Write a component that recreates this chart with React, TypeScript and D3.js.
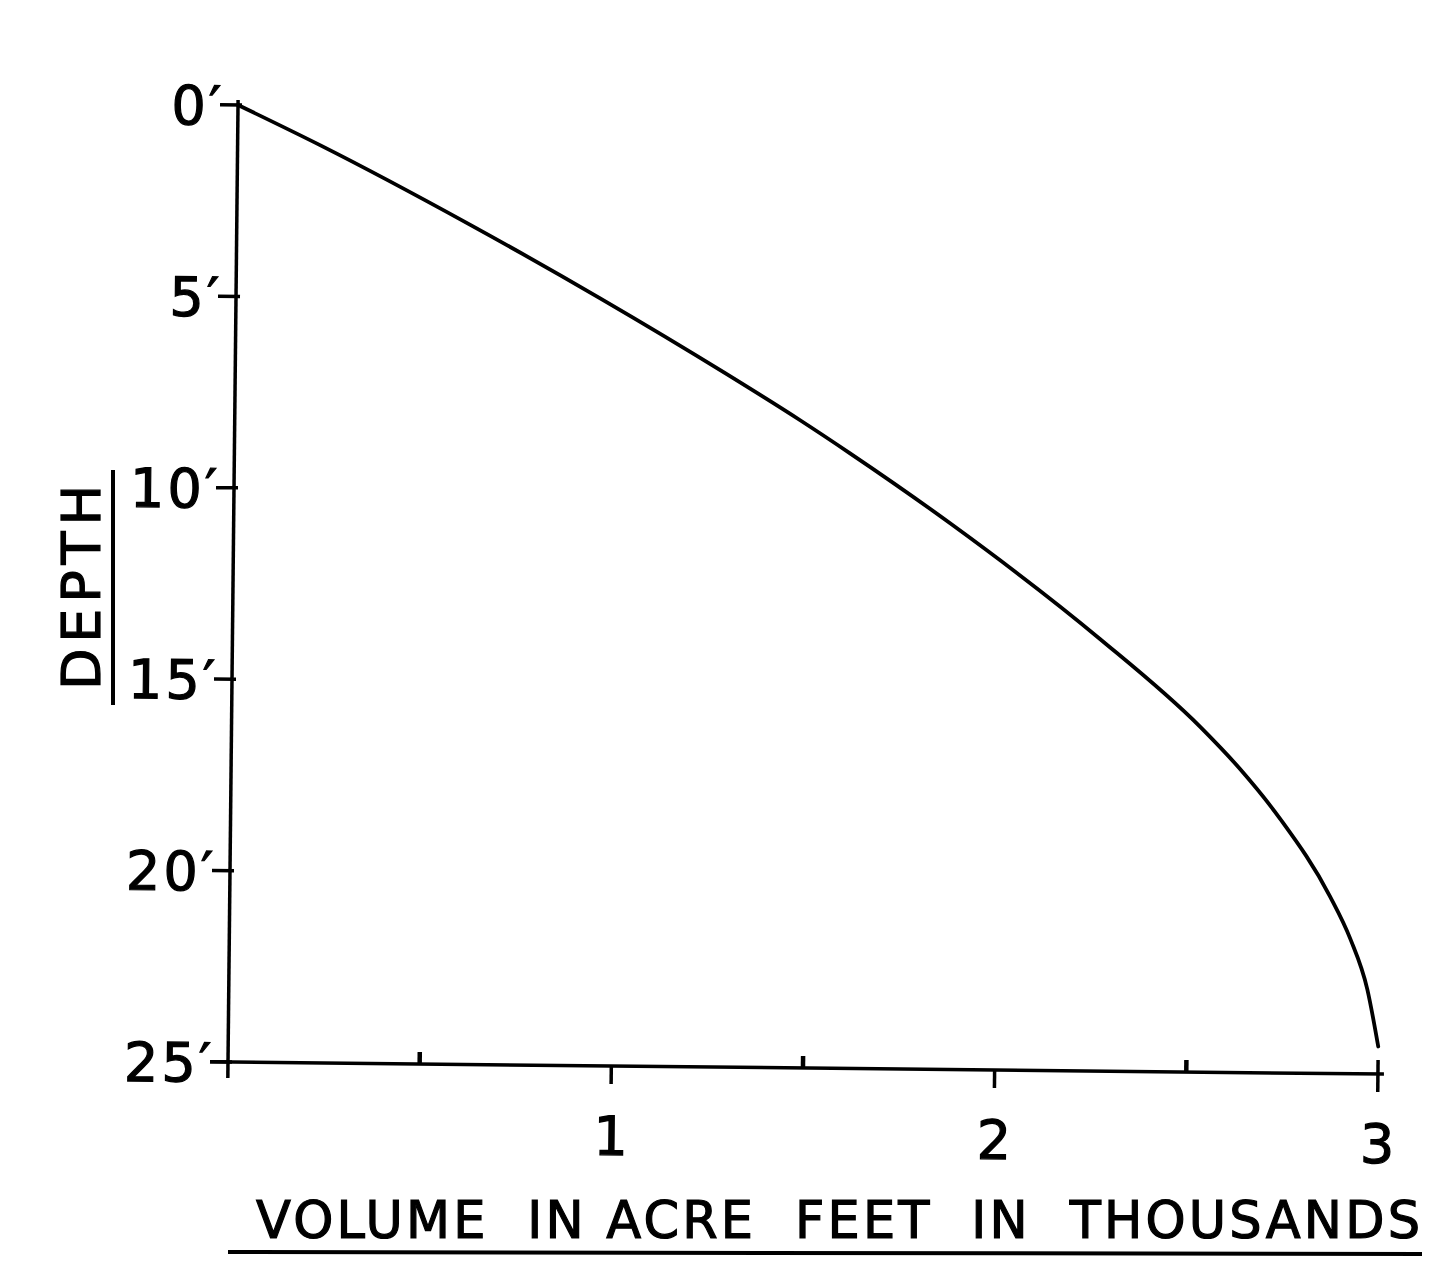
import React from "react";
import * as d3 from "d3";

// Reservoir capacity curve: volume (thousands of acre-feet) vs depth (feet)
const volumes = [0, 0.215, 0.608, 0.95, 1.278, 1.475, 1.606, 1.869, 2.263, 2.527, 2.632, 2.738, 2.87, 2.924, 2.97, 3.0];
const depths = [0, 1.025, 3.06, 4.95, 6.87, 8.08, 8.93, 10.73, 13.71, 15.98, 17.07, 18.36, 20.37, 21.47, 22.79, 24.28];

const depthTicks = [0, 5, 10, 15, 20, 25];
const depthTickLabels = ["0′", "5′", "10′", "15′", "20′", "25′"];
const volumeMajorTicks = [1, 2, 3];
const volumeMajorLabels = ["1", "2", "3"];
const volumeMinorTicks = [0.5, 1.5, 2.5];

const xTitle = "VOLUME  IN ACRE  FEET  IN  THOUSANDS";
const yTitle = "DEPTH";

const W = 1450;
const H = 1267;
const FONT = "'DejaVu Sans', 'Liberation Sans', sans-serif";

export default function App() {
  const x = d3.scaleLinear().domain([0, 3]).range([228, 1378]);
  const y = d3.scaleLinear().domain([0, 25]).range([105, 1062]);
  const x0 = x(0);
  const yBase = y(25);

  const pts = volumes.map((v, i) => [v, depths[i]] as [number, number]);
  const line = d3
    .line<[number, number]>()
    .x((d) => x(d[0]))
    .y((d) => y(d[1]))
    .curve(d3.curveMonotoneX);

  const textProps = {
    fontFamily: FONT,
    fill: "#000",
    stroke: "#000",
    strokeWidth: 1.2,
  };

  return (
    <svg
      width={W}
      height={H}
      viewBox={`0 0 ${W} ${H}`}
      style={{ position: "absolute", left: 0, top: 0, background: "#fff" }}
    >
      <rect x={0} y={0} width={W} height={H} fill="#fff" />
      <g transform={`rotate(0.6 ${x0} ${yBase})`}>
        {/* y axis */}
        <line x1={x0} y1={y(0) - 5} x2={x0} y2={yBase + 16} stroke="#000" strokeWidth={3.5} />
        {/* x axis */}
        <line x1={x0 - 18} y1={yBase} x2={x(3) + 6} y2={yBase} stroke="#000" strokeWidth={3.5} />

        {depthTicks.map((d, i) => (
          <g key={"yt" + d}>
            <line x1={x0 - 18} x2={x0 + 4} y1={y(d)} y2={y(d)} stroke="#000" strokeWidth={3.5} />
            <text
              x={x0 - 14}
              y={y(d) + 20}
              textAnchor="end"
              fontSize={54}
              letterSpacing={3}
              {...textProps}
            >
              {depthTickLabels[i]}
            </text>
          </g>
        ))}

        {volumeMajorTicks.map((v, i) => (
          <g key={"xt" + v}>
            <line
              x1={x(v)}
              x2={x(v)}
              y1={v === 3 ? yBase - 14 : yBase}
              y2={yBase + 18}
              stroke="#000"
              strokeWidth={3.5}
            />
            <text x={x(v)} y={yBase + 89} textAnchor="middle" fontSize={54} {...textProps}>
              {volumeMajorLabels[i]}
            </text>
          </g>
        ))}
        {volumeMinorTicks.map((v) => (
          <line key={"xm" + v} x1={x(v)} x2={x(v)} y1={yBase - 12} y2={yBase} stroke="#000" strokeWidth={4.5} />
        ))}

        {/* capacity curve */}
        <path d={line(pts) || ""} fill="none" stroke="#000" strokeWidth={3.8} strokeLinejoin="round" strokeLinecap="round" />
      </g>

      {/* x axis title with underline */}
      <text
        x={256}
        y={1238}
        fontSize={51}
        textLength={1164}
        lengthAdjust="spacing"
        style={{ whiteSpace: "pre" }}
        {...textProps}
      >
        {xTitle}
      </text>
      <line x1={228} y1={1252} x2={1422} y2={1254} stroke="#000" strokeWidth={4} />

      {/* y axis title with underline (rotated) */}
      <g transform="translate(100 690) rotate(-90)">
        <text x={0} y={0} fontSize={54} textLength={205} lengthAdjust="spacing" {...textProps}>
          {yTitle}
        </text>
        <line x1={-15} y1={13} x2={220} y2={13} stroke="#000" strokeWidth={4} />
      </g>
    </svg>
  );
}
